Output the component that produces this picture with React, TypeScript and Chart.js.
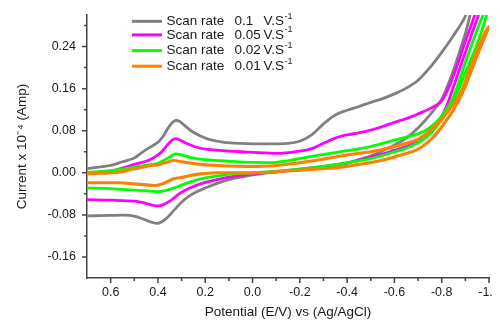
import React, { useEffect, useRef } from "react";
import { Chart, registerables } from "chart.js";

Chart.register(...registerables);

// ---- data (potential E in V, current I in 10^-4 A) ----
const scanRates = ["0.1", "0.05", "0.02", "0.01"];

const rate01_fwdE = [0.70, 0.65, 0.60, 0.55, 0.50, 0.47, 0.44, 0.42, 0.40, 0.38, 0.36, 0.34, 0.325, 0.31, 0.29, 0.26, 0.22, 0.18, 0.12, 0.05, -0.05, -0.15, -0.20, -0.25, -0.30, -0.35, -0.40, -0.45, -0.50, -0.55, -0.60, -0.65, -0.70, -0.75, -0.80, -0.85, -0.90, -0.95];
const rate01_fwdI = [0.008, 0.011, 0.014, 0.021, 0.028, 0.038, 0.047, 0.052, 0.058, 0.068, 0.083, 0.095, 0.0995, 0.098, 0.091, 0.080, 0.070, 0.063, 0.058, 0.056, 0.055, 0.056, 0.060, 0.072, 0.093, 0.110, 0.119, 0.126, 0.134, 0.141, 0.150, 0.161, 0.176, 0.200, 0.229, 0.261, 0.298, 0.36];
const rate01_revE = [-1.0, -0.92, -0.90, -0.85, -0.82, -0.80, -0.75, -0.70, -0.65, -0.60, -0.55, -0.50, -0.45, -0.40, -0.35, -0.30, -0.20, -0.10, 0.00, 0.05, 0.10, 0.15, 0.20, 0.24, 0.27, 0.30, 0.33, 0.36, 0.38, 0.40, 0.42, 0.45, 0.48, 0.52, 0.60, 0.70];
const rate01_revI = [0.45, 0.300, 0.265, 0.195, 0.160, 0.140, 0.110, 0.085, 0.066, 0.053, 0.042, 0.032, 0.025, 0.018, 0.014, 0.011, 0.006, 0.002, -0.004, -0.008, -0.013, -0.020, -0.029, -0.037, -0.045, -0.056, -0.070, -0.085, -0.092, -0.096, -0.095, -0.090, -0.085, -0.081, -0.081, -0.082];

const rate005_fwdE = [0.70, 0.65, 0.60, 0.55, 0.50, 0.45, 0.42, 0.40, 0.38, 0.36, 0.34, 0.325, 0.31, 0.28, 0.24, 0.20, 0.14, 0.05, -0.05, -0.12, -0.20, -0.25, -0.30, -0.35, -0.40, -0.45, -0.50, -0.55, -0.60, -0.65, -0.70, -0.75, -0.80, -0.85, -0.90, -0.94];
const rate005_fwdI = [0.000, 0.001, 0.003, 0.009, 0.016, 0.022, 0.028, 0.034, 0.042, 0.053, 0.062, 0.065, 0.063, 0.056, 0.049, 0.045, 0.0425, 0.040, 0.038, 0.037, 0.041, 0.046, 0.056, 0.066, 0.072, 0.076, 0.081, 0.088, 0.096, 0.103, 0.112, 0.122, 0.137, 0.185, 0.250, 0.300];
const rate005_revE = [-1.0, -0.955, -0.92, -0.88, -0.845, -0.83, -0.81, -0.78, -0.75, -0.70, -0.65, -0.60, -0.55, -0.50, -0.45, -0.40, -0.30, -0.20, -0.10, 0.00, 0.08, 0.15, 0.22, 0.27, 0.31, 0.35, 0.38, 0.40, 0.42, 0.45, 0.50, 0.60, 0.70];
const rate005_revI = [0.38, 0.300, 0.255, 0.203, 0.157, 0.138, 0.116, 0.093, 0.078, 0.060, 0.050, 0.043, 0.036, 0.030, 0.024, 0.019, 0.012, 0.007, 0.002, -0.002, -0.007, -0.013, -0.021, -0.030, -0.040, -0.054, -0.061, -0.063, -0.062, -0.058, -0.054, -0.052, -0.051];

const rate002_fwdE = [0.70, 0.60, 0.55, 0.50, 0.45, 0.40, 0.37, 0.34, 0.325, 0.30, 0.26, 0.20, 0.10, 0.00, -0.10, -0.20, -0.30, -0.40, -0.50, -0.60, -0.65, -0.70, -0.75, -0.80, -0.85, -0.90, -0.95, -0.975];
const rate002_fwdI = [0.001, 0.004, 0.007, 0.011, 0.014, 0.018, 0.025, 0.033, 0.036, 0.034, 0.029, 0.025, 0.022, 0.020, 0.020, 0.027, 0.035, 0.042, 0.050, 0.062, 0.068, 0.074, 0.086, 0.108, 0.145, 0.210, 0.272, 0.300];
const rate002_revE = [-1.0, -0.99, -0.95, -0.90, -0.87, -0.84, -0.80, -0.75, -0.70, -0.65, -0.60, -0.55, -0.50, -0.40, -0.30, -0.20, -0.10, 0.00, 0.08, 0.15, 0.22, 0.28, 0.32, 0.36, 0.40, 0.43, 0.50, 0.60, 0.70];
const rate002_revI = [0.325, 0.300, 0.245, 0.190, 0.157, 0.130, 0.100, 0.074, 0.057, 0.047, 0.040, 0.033, 0.027, 0.019, 0.012, 0.007, 0.003, 0.000, -0.002, -0.006, -0.0115, -0.020, -0.027, -0.033, -0.036, -0.035, -0.033, -0.030, -0.029];

const rate001_fwdE = [0.70, 0.65, 0.57, 0.50, 0.43, 0.40, 0.37, 0.335, 0.30, 0.24, 0.15, 0.00, -0.10, -0.20, -0.30, -0.40, -0.50, -0.60, -0.70, -0.75, -0.80, -0.85, -0.885, -0.93, -0.97, -1.0];
const rate001_fwdI = [-0.002, -0.001, 0.001, 0.0076, 0.014, 0.015, 0.019, 0.0234, 0.021, 0.017, 0.014, 0.012, 0.014, 0.019, 0.026, 0.034, 0.040, 0.050, 0.064, 0.080, 0.102, 0.131, 0.157, 0.210, 0.255, 0.278];
const rate001_revE = [-0.97, -0.93, -0.893, -0.85, -0.82, -0.765, -0.70, -0.60, -0.54, -0.45, -0.35, -0.20, -0.10, 0.00, 0.08, 0.15, 0.22, 0.265, 0.30, 0.335, 0.36, 0.39, 0.41, 0.45, 0.50, 0.57, 0.70];
const rate001_revI = [0.245, 0.200, 0.157, 0.120, 0.100, 0.068, 0.045, 0.030, 0.023, 0.016, 0.0095, 0.005, 0.002, 0.000, 0.000, 0.000, -0.002, -0.005, -0.009, -0.0115, -0.017, -0.022, -0.024, -0.023, -0.021, -0.019, -0.019];

const xTickValues = [0.6, 0.4, 0.2, 0.0, -0.2, -0.4, -0.6, -0.8, -1.0];
const xMinorTickValues = [0.5, 0.3, 0.1, -0.1, -0.3, -0.5, -0.7, -0.9];
const yTickValues = [-0.16, -0.08, 0.0, 0.08, 0.16, 0.24];
const yMinorTickValues = [-0.12, -0.04, 0.04, 0.12, 0.2, 0.28];

// ---- styles ----
const COLORS = ["#808080", "#ff00ff", "#00ff00", "#ff8000"];
const AXIS_COLOR = "#444444";
const TEXT_COLOR = "#1a1a1a";
const FONT = "'Liberation Sans', Arial, sans-serif";

function loop(fE: number[], fI: number[], rE: number[], rI: number[]) {
  const pts: { x: number; y: number }[] = [];
  fE.forEach((e, i) => pts.push({ x: e, y: fI[i] }));
  rE.forEach((e, i) => pts.push({ x: e, y: rI[i] }));
  return pts;
}

const tickMarksPlugin = {
  id: "tickMarks",
  afterDraw(chart: any) {
    const { ctx, chartArea, scales } = chart;
    const xs = scales.x;
    const ys = scales.y;
    ctx.save();
    ctx.strokeStyle = AXIS_COLOR;
    ctx.lineWidth = 1.5;
    ctx.beginPath();
    xTickValues.forEach((v) => {
      const p = xs.getPixelForValue(v);
      ctx.moveTo(p, chartArea.bottom);
      ctx.lineTo(p, chartArea.bottom + 5);
    });
    xMinorTickValues.forEach((v) => {
      const p = xs.getPixelForValue(v);
      ctx.moveTo(p, chartArea.bottom);
      ctx.lineTo(p, chartArea.bottom + 3);
    });
    yTickValues.forEach((v) => {
      const p = ys.getPixelForValue(v);
      ctx.moveTo(chartArea.left, p);
      ctx.lineTo(chartArea.left - 5, p);
    });
    yMinorTickValues.forEach((v) => {
      const p = ys.getPixelForValue(v);
      ctx.moveTo(chartArea.left, p);
      ctx.lineTo(chartArea.left - 3, p);
    });
    ctx.stroke();
    ctx.restore();
  },
};

const legendPlugin = {
  id: "cvLegend",
  afterDraw(chart: any) {
    const { ctx } = chart;
    const rowsY = [13.3, 26.9, 42.6, 58.2];
    ctx.save();
    ctx.textBaseline = "middle";
    ctx.fillStyle = TEXT_COLOR;
    scanRates.forEach((rate, i) => {
      const y = rowsY[i];
      ctx.strokeStyle = COLORS[i];
      ctx.lineWidth = 3;
      ctx.beginPath();
      ctx.moveTo(124, y);
      ctx.lineTo(154, y);
      ctx.stroke();
      ctx.font = `13.5px ${FONT}`;
      ctx.textAlign = "left";
      ctx.fillText("Scan rate", 158.5, y);
      ctx.fillText(rate, 226.5, y);
      ctx.fillText("V.S", 255.5, y);
      const w = ctx.measureText("V.S").width;
      ctx.font = `9px ${FONT}`;
      ctx.fillText("-1", 255.5 + w + 0.5, y - 5);
    });
    ctx.restore();
  },
};

export default function App() {
  const canvasRef = useRef<HTMLCanvasElement | null>(null);

  useEffect(() => {
    if (!canvasRef.current) return;
    const series = [
      loop(rate01_fwdE, rate01_fwdI, rate01_revE, rate01_revI),
      loop(rate005_fwdE, rate005_fwdI, rate005_revE, rate005_revI),
      loop(rate002_fwdE, rate002_fwdI, rate002_revE, rate002_revI),
      loop(rate001_fwdE, rate001_fwdI, rate001_revE, rate001_revI),
    ];
    const chart = new Chart(canvasRef.current, {
      type: "line",
      data: {
        datasets: series.map((pts, i) => ({
          label: `Scan rate ${scanRates[i]} V.S-1`,
          data: pts,
          borderColor: COLORS[i],
          backgroundColor: COLORS[i],
          borderWidth: i === 3 ? 3.1 : 2.8,
          pointRadius: 0,
          tension: 0.35,
          fill: false,
          order: 4 - i,
        })),
      },
      options: {
        animation: false,
        responsive: false,
        devicePixelRatio: 1,
        layout: { padding: { top: 7, right: 11, bottom: 0, left: 0 } },
        plugins: {
          legend: { display: false },
          tooltip: { enabled: false },
        },
        scales: {
          x: {
            type: "linear",
            min: -1.0,
            max: 0.7,
            reverse: true,
            afterBuildTicks: (s: any) => {
              s.ticks = xTickValues.map((v) => ({ value: v }));
            },
            afterFit: (s: any) => {
              s.height = 42;
              s.paddingLeft = 0;
              s.paddingRight = 0;
            },
            grid: { display: false, drawTicks: false },
            border: { display: true, color: AXIS_COLOR, width: 1.5 },
            ticks: {
              padding: 7,
              autoSkip: false,
              maxRotation: 0,
              color: TEXT_COLOR,
              font: { family: FONT, size: 12.5 },
              callback: (v: any) => Number(v).toFixed(1),
            },
            title: {
              display: true,
              text: "Potential (E/V) vs (Ag/AgCl)",
              color: TEXT_COLOR,
              font: { family: FONT, size: 13.5 },
              padding: { top: 0, bottom: 0 },
            },
          },
          y: {
            type: "linear",
            min: -0.2,
            max: 0.3,
            afterBuildTicks: (s: any) => {
              s.ticks = yTickValues.map((v) => ({ value: v }));
            },
            afterFit: (s: any) => {
              s.width = 79;
              s.paddingTop = 0;
              s.paddingBottom = 0;
            },
            grid: { display: false, drawTicks: false },
            border: { display: true, color: AXIS_COLOR, width: 1.5 },
            ticks: {
              padding: 11,
              color: TEXT_COLOR,
              font: { family: FONT, size: 12.5 },
              callback: (v: any) => Number(v).toFixed(2),
            },
            title: {
              display: true,
              text: "Current x 10\u207B\u2074 (Amp)",
              color: TEXT_COLOR,
              font: { family: FONT, size: 13.5 },
              padding: { top: 6, bottom: 0 },
            },
          },
        },
      },
      plugins: [tickMarksPlugin, legendPlugin],
    } as any);
    return () => chart.destroy();
  }, []);

  return (
    <canvas
      ref={canvasRef}
      width={492}
      height={312}
      style={{ display: "block", width: 492, height: 312 }}
    />
  );
}
